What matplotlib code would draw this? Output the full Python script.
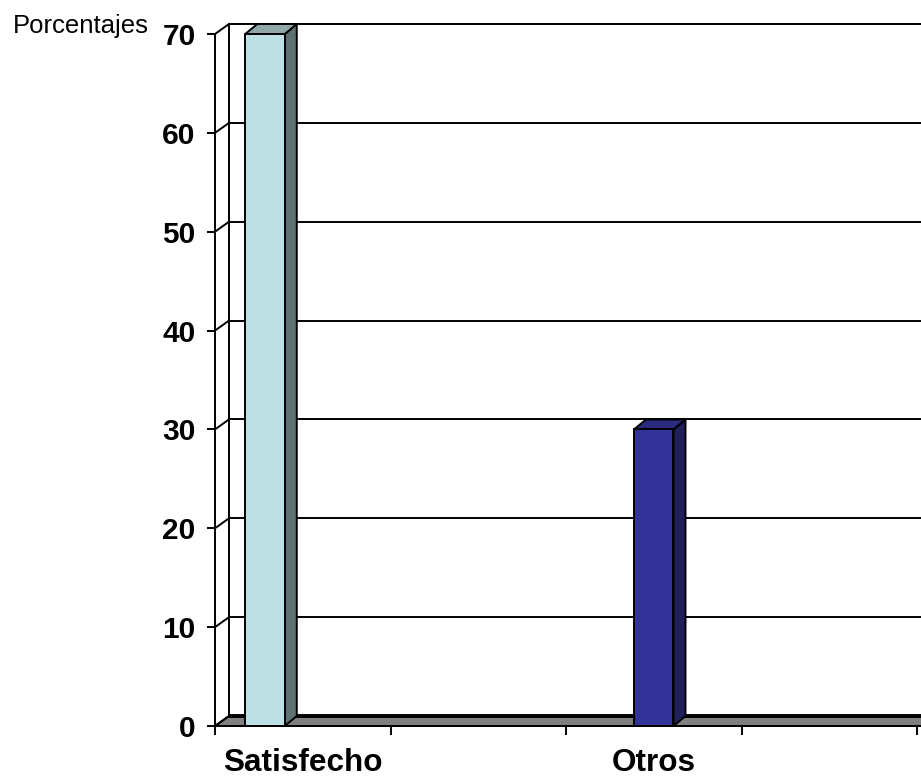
import numpy as np
import matplotlib
matplotlib.use('Agg')
import matplotlib.pyplot as plt
from matplotlib.patches import Polygon, Rectangle

# data
categories = ['Satisfecho', 'Otros']
values = [70, 30]
bar_centers = [0.285, 2.5]     # where each column sits along the category axis
label_centers = [0.5, 2.5]     # where the category labels sit
slot_edges = [0, 1, 2, 3, 4]
y_ticks = [0, 10, 20, 30, 40, 50, 60, 70]
ylabel = 'Porcentajes'

face_colors = ['#BCE0E3', '#333399']
side_colors = ['#5E7273', '#1F1F5C']
top_colors = ['#8FA7A9', '#2A2A7E']

plt.rcParams['font.family'] = ['Liberation Sans', 'DejaVu Sans']

W, H = 921, 778
fig = plt.figure(figsize=(W / 100, H / 100), dpi=100)
# 0 at x=215px, 4 at x=917px; 0 at y=726px, 70 at y=34px
px_x = 175.5
px_y = 692 / 70
x_right = 4 + (W - 917) / px_x
ax = fig.add_axes([215 / W, (H - 726) / H, (W - 215) / W, (726 - 10) / H])
ax.set_xlim(0, x_right)
ax.set_ylim(0, (726 - 10) / px_y)
ax.patch.set_visible(False)

# depth of the walls and of the columns, in data units
wdx, wdy = 14 / px_x, 10 / px_y
bdx, bdy = 12 / px_x, 10 / px_y
bar_w = 0.225
lw = 1.4

# floor
floor = Polygon([(0, 0), (wdx, wdy), (x_right + 1, wdy), (x_right + 1, 0)],
                closed=True, facecolor='#808080', edgecolor='black', lw=lw,
                zorder=2, clip_on=False)
ax.add_patch(floor)
ax.plot([wdx, x_right + 1], [wdy, wdy], color='black', lw=2.8, zorder=3,
        clip_on=False, solid_capstyle='butt')

# back wall grid and side wall diagonals
for v in y_ticks:
    if v > 0:
        ax.plot([wdx, x_right + 1], [v + wdy, v + wdy], color='black', lw=lw,
                zorder=1, clip_on=False)
    ax.plot([0, wdx], [v, v + wdy], color='black', lw=lw, zorder=3, clip_on=False)
ax.plot([wdx, wdx], [wdy, 70 + wdy], color='black', lw=lw, zorder=1, clip_on=False)

# columns
for xc, v, fc, sc, tc in zip(bar_centers, values, face_colors, side_colors, top_colors):
    x0, x1 = xc - bar_w / 2, xc + bar_w / 2
    ax.add_patch(Polygon([(x1, 0), (x1 + bdx, bdy), (x1 + bdx, v + bdy), (x1, v)],
                         closed=True, facecolor=sc, edgecolor='black', lw=lw, zorder=4))
    ax.add_patch(Polygon([(x0, v), (x0 + bdx, v + bdy), (x1 + bdx, v + bdy), (x1, v)],
                         closed=True, facecolor=tc, edgecolor='black', lw=lw, zorder=4))
    ax.add_patch(Rectangle((x0, 0), bar_w, v, facecolor=fc, edgecolor='black',
                           lw=lw, zorder=5))

# axes lines
for s in ['top', 'right']:
    ax.spines[s].set_visible(False)
ax.spines['left'].set_bounds(0, 70)
ax.spines['left'].set_linewidth(lw)
ax.spines['bottom'].set_linewidth(lw)
ax.spines['bottom'].set_zorder(6)

ax.set_yticks(y_ticks)
ax.set_yticklabels([str(t) for t in y_ticks], fontsize=21.5, fontweight='bold')
ax.tick_params(axis='y', length=6, width=lw, pad=8)

ax.set_xticks(slot_edges)
ax.set_xticklabels([])
ax.tick_params(axis='x', which='major', length=6.5, width=lw)
ax.set_xticks(label_centers, minor=True)
ax.set_xticklabels(categories, minor=True, fontsize=22.7, fontweight='bold')
ax.tick_params(axis='x', which='minor', length=0, pad=16)

fig.text(13 / W, 1 - 33 / H, ylabel, fontsize=18.5, ha='left', va='baseline')

fig.savefig('out.png', dpi=100)
